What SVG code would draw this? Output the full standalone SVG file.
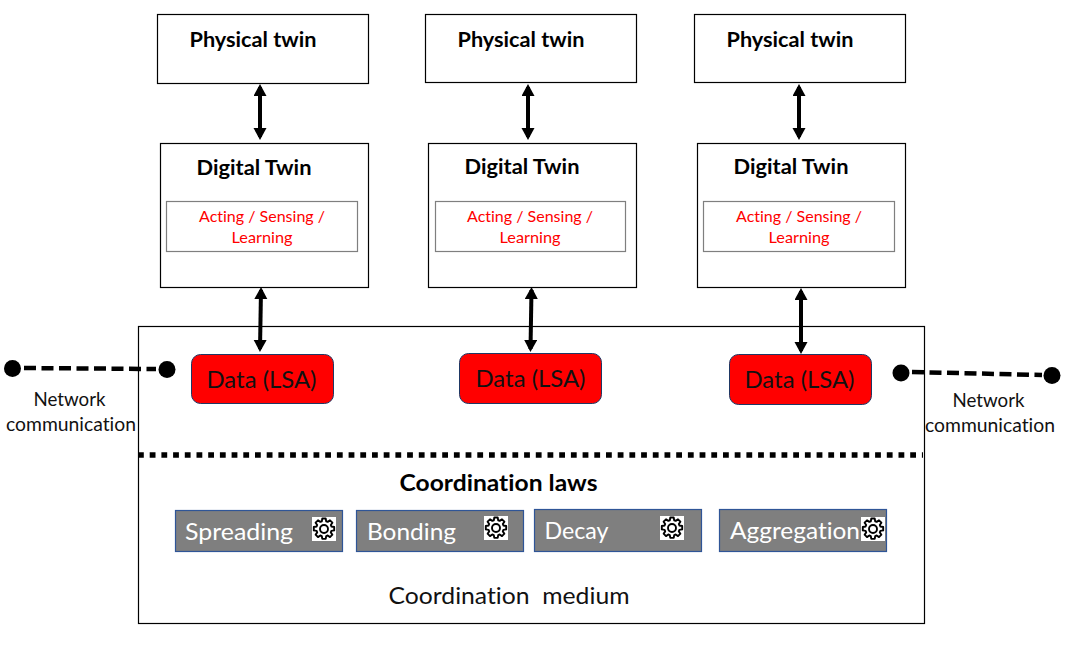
<svg xmlns="http://www.w3.org/2000/svg" xmlns:xlink="http://www.w3.org/1999/xlink" width="1075" height="651" viewBox="0 0 1075 651">
<style>
text{font-family:Lato,"Noto Sans","Liberation Sans",sans-serif;font-variant-ligatures:none}
.box{fill:#fff;stroke:#000;stroke-width:1.2}
.inner{fill:#fff;stroke:#7f7f7f;stroke-width:1.2}
.h{font-size:21px;font-weight:700;fill:#000}
.red{font-size:16px;fill:#f00;text-anchor:middle}
.data{fill:#f00;stroke:#1f3864;stroke-width:1}
.dt{font-size:23px;fill:#111;text-anchor:middle}
.law{fill:#7f7f7f;stroke:#2f5597;stroke-width:1.2}
.lt{font-size:24px;fill:#fff}
.net{font-size:19px;fill:#111;text-anchor:middle}
.arrow{fill:none;stroke:#000;stroke-width:4;marker-start:url(#a);marker-end:url(#a)}
.dash{fill:none;stroke:#000;stroke-width:4.500;stroke-dasharray:12 5.500}
</style>
<defs>
<marker id="a" markerUnits="userSpaceOnUse" markerWidth="14" markerHeight="14" refX="9" refY="6.500" orient="auto-start-reverse"><path d="M0 0L12 6.500L0 13Z" fill="#000"/></marker>
<g id="gear">
<rect x="0" y="0" width="24" height="24" fill="#fff"/>
<path d="M10.300 2.500h3.400l.5 2.800 1.500.6 2.300-1.600 2.400 2.400-1.600 2.300.6 1.500 2.800.5v3.400l-2.800.5-.6 1.500 1.600 2.300-2.400 2.400-2.300-1.600-1.500.6-.5 2.800h-3.400l-.5-2.800-1.500-.6-2.300 1.600-2.400-2.400 1.600-2.300-.6-1.500-2.800-.5v-3.400l2.800-.5.6-1.500-1.600-2.300 2.400-2.400 2.300 1.600 1.500-.6z" transform="translate(0 -1)" fill="#fff" stroke="#000" stroke-width="1.900" stroke-linejoin="round"/>
<circle cx="12" cy="12" r="4" fill="#fff" stroke="#000" stroke-width="1.900"/>
</g>
</defs>

<g id="medium">
<rect class="box" x="138.500" y="326.500" width="786" height="297"/>
<text x="509" y="604" font-size="23" fill="#111" text-anchor="middle" xml:space="preserve" textLength="241" lengthAdjust="spacingAndGlyphs">Coordination  medium</text>
</g>

<g id="pt1"><rect class="box" x="157.500" y="14.500" width="211" height="69"/><text class="h" x="189.500" y="47" textLength="127" lengthAdjust="spacingAndGlyphs">Physical twin</text></g>
<g id="pt2"><rect class="box" x="425.500" y="14.500" width="211" height="68"/><text class="h" x="457.500" y="47" textLength="127" lengthAdjust="spacingAndGlyphs">Physical twin</text></g>
<g id="pt3"><rect class="box" x="694.500" y="14.500" width="211" height="68"/><text class="h" x="726.500" y="47" textLength="127" lengthAdjust="spacingAndGlyphs">Physical twin</text></g>

<g id="dt1"><rect class="box" x="160.500" y="143.500" width="208" height="144"/><text class="h" x="196.500" y="175" textLength="115" lengthAdjust="spacingAndGlyphs">Digital Twin</text><rect class="inner" x="166.500" y="201.500" width="191" height="50"/><text class="red" x="262" y="222" textLength="126" lengthAdjust="spacingAndGlyphs">Acting / Sensing /</text><text class="red" x="262" y="243" textLength="61" lengthAdjust="spacingAndGlyphs">Learning</text></g>
<g id="dt2"><rect class="box" x="428.500" y="143.500" width="208" height="144"/><text class="h" x="464.500" y="174" textLength="115" lengthAdjust="spacingAndGlyphs">Digital Twin</text><rect class="inner" x="435.500" y="201.500" width="190" height="50"/><text class="red" x="530" y="222" textLength="126" lengthAdjust="spacingAndGlyphs">Acting / Sensing /</text><text class="red" x="530" y="243" textLength="61" lengthAdjust="spacingAndGlyphs">Learning</text></g>
<g id="dt3"><rect class="box" x="697.500" y="143.500" width="208" height="144"/><text class="h" x="733.500" y="174" textLength="115" lengthAdjust="spacingAndGlyphs">Digital Twin</text><rect class="inner" x="703.500" y="201.500" width="191" height="50"/><text class="red" x="799" y="222" textLength="126" lengthAdjust="spacingAndGlyphs">Acting / Sensing /</text><text class="red" x="799" y="243" textLength="61" lengthAdjust="spacingAndGlyphs">Learning</text></g>

<g id="data1"><rect class="data" x="191.500" y="354.500" width="142" height="49" rx="9"/><text class="dt" x="261.500" y="388" textLength="110" lengthAdjust="spacingAndGlyphs">Data (LSA)</text></g>
<g id="data2"><rect class="data" x="459.500" y="353.500" width="142" height="50" rx="9"/><text class="dt" x="530.500" y="387" textLength="110" lengthAdjust="spacingAndGlyphs">Data (LSA)</text></g>
<g id="data3"><rect class="data" x="729.500" y="354.500" width="142" height="50" rx="9"/><text class="dt" x="799.500" y="388" textLength="110" lengthAdjust="spacingAndGlyphs">Data (LSA)</text></g>

<g id="connectors">
<line class="arrow" x1="260" y1="87" x2="260" y2="137"/>
<line class="arrow" x1="528" y1="87" x2="528" y2="137"/>
<line class="arrow" x1="799" y1="87" x2="799" y2="137"/>
<line class="arrow" x1="261" y1="290" x2="260" y2="349"/>
<line class="arrow" x1="531.500" y1="290" x2="530.500" y2="349"/>
<line class="arrow" x1="801" y1="291" x2="801" y2="351"/>
<line class="dash" x1="24" y1="368" x2="156" y2="369"/>
<circle cx="12.500" cy="368.500" r="8.500"/>
<circle cx="167" cy="369.500" r="8.500"/>
<line class="dash" x1="912" y1="372" x2="1042" y2="375"/>
<circle cx="901" cy="373" r="8.500"/>
<circle cx="1052" cy="375.500" r="8.500"/>
<line x1="138" y1="455" x2="923" y2="455" fill="none" stroke="#000" stroke-width="5.500" stroke-dasharray="5.800 5.900"/>
</g>

<g id="net1"><text class="net" x="69.500" y="406" textLength="72" lengthAdjust="spacingAndGlyphs">Network</text><text class="net" x="71" y="431" textLength="130" lengthAdjust="spacingAndGlyphs">communication</text></g>
<g id="net2"><text class="net" x="988.500" y="407" textLength="72" lengthAdjust="spacingAndGlyphs">Network</text><text class="net" x="990" y="432" textLength="130" lengthAdjust="spacingAndGlyphs">communication</text></g>

<text id="laws" class="h" x="399.500" y="491" textLength="198" lengthAdjust="spacingAndGlyphs" style="font-size:23px">Coordination laws</text>

<g id="spreading"><rect class="law" x="175.500" y="510.500" width="167" height="41"/><text class="lt" x="185" y="540" textLength="108" lengthAdjust="spacingAndGlyphs">Spreading</text><use href="#gear" x="312" y="517"/></g>
<g id="bonding"><rect class="law" x="356.500" y="510.500" width="167" height="41"/><text class="lt" x="367" y="540" textLength="89" lengthAdjust="spacingAndGlyphs">Bonding</text><use href="#gear" x="484" y="516"/></g>
<g id="decay"><rect class="law" x="534.500" y="509.500" width="167" height="42"/><text class="lt" x="544.500" y="539" textLength="64" lengthAdjust="spacingAndGlyphs">Decay</text><use href="#gear" x="660" y="516"/></g>
<g id="aggregation"><rect class="law" x="719.500" y="509.500" width="167" height="42"/><text class="lt" x="730" y="539" textLength="130" lengthAdjust="spacingAndGlyphs">Aggregation</text><use href="#gear" x="861" y="517"/></g>
</svg>
